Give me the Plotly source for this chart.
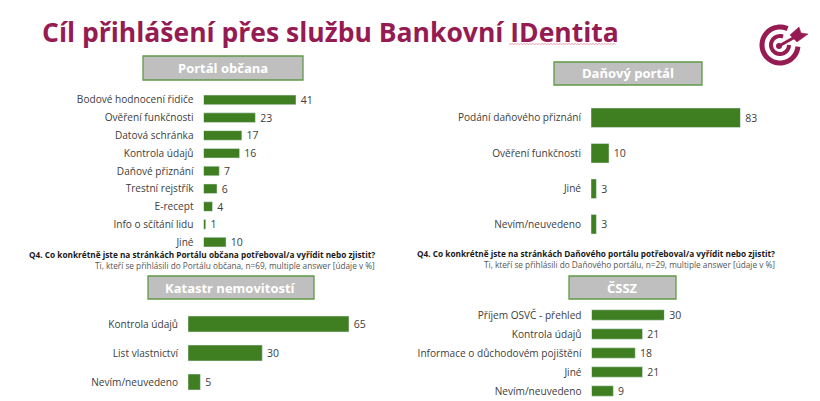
import math

import plotly.graph_objects as go

W = 820
H = 401

title = 'Cíl přihlášení přes službu Bankovní IDentita'

portal_labels = ['Bodové hodnocení řidiče', 'Ověření funkčnosti', 'Datová schránka', 'Kontrola údajů',
                 'Daňové přiznání', 'Trestní rejstřík', 'E-recept', 'Info o sčítání lidu', 'Jiné']
portal_values = [41, 23, 17, 16, 7, 6, 4, 1, 10]

dane_labels = ['Podání daňového přiznání', 'Ověření funkčnosti', 'Jiné', 'Nevím/neuvedeno']
dane_values = [83, 10, 3, 3]

katastr_labels = ['Kontrola údajů', 'List vlastnictví', 'Nevím/neuvedeno']
katastr_values = [65, 30, 5]

cssz_labels = ['Příjem OSVČ - přehled', 'Kontrola údajů', 'Informace o důchodovém pojištění', 'Jiné', 'Nevím/neuvedeno']
cssz_values = [30, 21, 18, 21, 9]

GREEN = '#3f7f22'
WINE = '#951b52'
TEXT = '#404040'
FONT = 'Open Sans'


def px(x):
    return x / W


def py(y):
    return 1 - y / H


def paper_path(points, close=False):
    # svg path in paper coordinates from screen pixels
    path = 'M' + ' L'.join(f'{px(x):.5f},{py(y):.5f}' for x, y in points)
    return path + (' Z' if close else '')


def arc_points(cx, cy, r, start, end, n=40):
    return [(cx + r * math.cos(math.radians(start + (end - start) * i / n)),
             cy + r * math.sin(math.radians(start + (end - start) * i / n))) for i in range(n + 1)]


fig = go.Figure()

# name, labels, values, left edge of bars, px per unit, top and bottom of the plot area, bar share
panels = [
    ('', portal_labels, portal_values, 203.5, 2.256, 91, 251, 0.54),
    ('2', dane_labels, dane_values, 591, 1.801, 100, 242, 0.55),
    ('3', katastr_labels, katastr_values, 188, 2.477, 309.5, 396.5, 0.55),
    ('4', cssz_labels, cssz_values, 591.5, 2.43, 305.5, 400.5, 0.55),
]

layout_axes = {}
for suffix, labels, values, left, scale, top, bottom, share in panels:
    fig.add_trace(go.Bar(
        x=values,
        y=labels,
        orientation='h',
        marker_color=GREEN,
        width=share,
        texttemplate='\u2009%{x}',  # thin space, labels sit a bit off the bar
        textposition='outside',
        constraintext='none',
        textfont=dict(family=FONT, size=10.5, color=TEXT),
        cliponaxis=False,
        xaxis='x' + suffix,
        yaxis='y' + suffix,
        showlegend=False,
    ))
    # axis range matches the domain so that px per unit stays exact
    x_max = max(values)
    layout_axes['xaxis' + suffix] = dict(domain=[px(left), px(left + scale * x_max)], range=[0, x_max],
                                         visible=False, anchor='y' + suffix)
    layout_axes['yaxis' + suffix] = dict(domain=[py(bottom), py(top)], autorange='reversed', type='category',
                                         showgrid=False, showline=False, zeroline=False, ticks='',
                                         anchor='x' + suffix, ticklabelstandoff=9,
                                         tickfont=dict(family=FONT, size=10.1, color=TEXT))

fig.update_layout(**layout_axes)

# grey header boxes
headers = [
    ('Portál občana', 143, 303, 56, 80),
    ('Daňový portál', 554, 702, 62, 85),
    ('Katastr nemovitostí', 148, 314, 276, 299),
    ('ČSSZ', 569, 676, 276, 299),
]
for text, x0, x1, y0, y1 in headers:
    fig.add_shape(type='rect', xref='paper', yref='paper', x0=px(x0), x1=px(x1), y0=py(y0), y1=py(y1),
                  fillcolor='#bfbfbf', line=dict(color='#5f9a45', width=1.3))
    fig.add_annotation(text=f'<b>{text}</b>', xref='paper', yref='paper', x=px((x0 + x1) / 2), y=py((y0 + y1) / 2),
                       xanchor='center', yanchor='middle', showarrow=False,
                       font=dict(family=FONT, size=13, color='white'))

# question notes under the charts
notes = [
    ('Q4. Co konkrétně jste na stránkách Portálu občana potřeboval/a vyřídit nebo zjistit?', 377, 254.5, True),
    ('Ti, kteří se přihlásili do Portálu občana, n=69, multiple answer [údaje v %]', 377, 265, False),
    ('Q4. Co konkrétně jste na stránkách Daňového portálu potřeboval/a vyřídit nebo zjistit?', 777, 253.5, True),
    ('Ti, kteří se přihlásili do Daňového portálu, n=29, multiple answer [údaje v %]', 777, 264, False),
]
for text, x, y, bold in notes:
    fig.add_annotation(text=f'<b>{text}</b>' if bold else text, xref='paper', yref='paper', x=px(x), y=py(y),
                       xanchor='right', yanchor='middle', showarrow=False,
                       font=dict(family=FONT, size=8.25, color='#1a1a1a' if bold else '#555555'))

# slide title
fig.add_annotation(text=f'<b>{title}</b>', xref='paper', yref='paper', x=px(40), y=py(32), xanchor='left',
                   yanchor='middle', showarrow=False, font=dict(family=FONT, size=26.5, color=WINE))

# spell check squiggle under IDentita
squiggle = [(509 + i * 1.5, 43.5 + (i % 2)) for i in range(72)]
fig.add_shape(type='path', xref='paper', yref='paper', path=paper_path(squiggle),
              line=dict(color='#e58a9a', width=0.8))

# target logo
for r, w, start, end in [(18, 5, 5, 295), (9, 4, 0, 290)]:
    fig.add_shape(type='path', xref='paper', yref='paper', path=paper_path(arc_points(780, 45, r, start, end)),
                  line=dict(color=WINE, width=w))
fig.add_shape(type='circle', xref='paper', yref='paper', x0=px(776), x1=px(782), y0=py(43), y1=py(49),
              fillcolor=WINE, line=dict(color=WINE, width=0))
fig.add_shape(type='line', xref='paper', yref='paper', x0=px(779), x1=px(795), y0=py(46), y1=py(37),
              line=dict(color=WINE, width=3))
fig.add_shape(type='path', xref='paper', yref='paper',
              path=paper_path([(790, 35), (799, 27), (801, 33), (808, 34), (797, 42)], close=True),
              fillcolor=WINE, line=dict(color=WINE, width=0.5))

fig.update_layout(width=W, height=H, margin=dict(l=0, r=0, t=0, b=0), paper_bgcolor='white', plot_bgcolor='white',
                  font=dict(family=FONT))

fig.write_html('out.html', config=dict(displayModeBar=False), post_script="document.body.style.margin='0';")
